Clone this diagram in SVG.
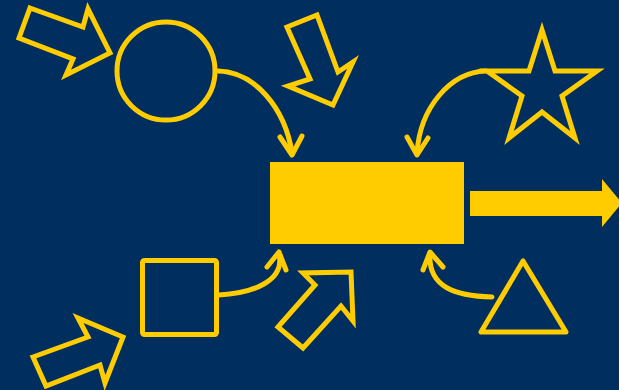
<svg xmlns="http://www.w3.org/2000/svg" width="619" height="390" viewBox="0 0 619 390">
<style>
.o{fill:none;stroke:#FFCC00;stroke-width:5;stroke-linejoin:miter}
.c{fill:none;stroke:#FFCC00;stroke-width:5;stroke-linecap:round;stroke-linejoin:round}
.f{fill:#FFCC00}
</style>
<rect width="619" height="390" fill="#002E5E"/>
<g id="arrow-topleft"><polygon class="o" points="30,8 83,27 88,9 110,53 66,75 73,59 19,38"/></g>
<g id="circle"><circle class="o" cx="166" cy="71" r="49"/></g>
<g id="arrow-down"><polygon class="o" points="287,27 317,15 338,72 353,62 333,105 288,86 310,79"/></g>
<g id="star"><polygon class="o" points="542,30 555,71 597,71 562,96 575,138 542,112 509,138 522,96 487,71 529,71"/></g>
<g id="center"><rect class="f" x="270" y="162" width="194" height="82"/></g>
<g id="arrow-right"><polygon class="f" points="470,191 602,191 602,179 622,203 602,227 602,216 470,216"/></g>
<g id="square"><rect class="o" x="142.5" y="260.5" width="74" height="74" rx="2" style="stroke-linejoin:round"/></g>
<g id="triangle"><polygon class="c" points="523,261 481,332 566,332"/></g>
<g id="arrow-bottomleft"><polygon class="o" points="33,357 88,337 78,318 123,337 105,383 100,365 46,386"/></g>
<g id="arrow-bottommid"><polygon class="o" points="278,327 315,285 303,273 351,272 353,321 341,306 303,348"/></g>
<g id="connectors">
<path class="c" d="M218,71 C255,72 285,108 292,153"/>
<path class="c" d="M280,137 L292,155 L302,136"/>
<path class="c" d="M486,71 C450,72 420,108 417,153"/>
<path class="c" d="M407,137 L417,155 L428,138"/>
<path class="c" d="M219,295 C255,293 285,280 279,254"/>
<path class="c" d="M267,267 L279,252 L286,270"/>
<path class="c" d="M492,297 C455,296 428,287 430,254"/>
<path class="c" d="M423,270 L430,252 L443,267"/>
</g>
</svg>
